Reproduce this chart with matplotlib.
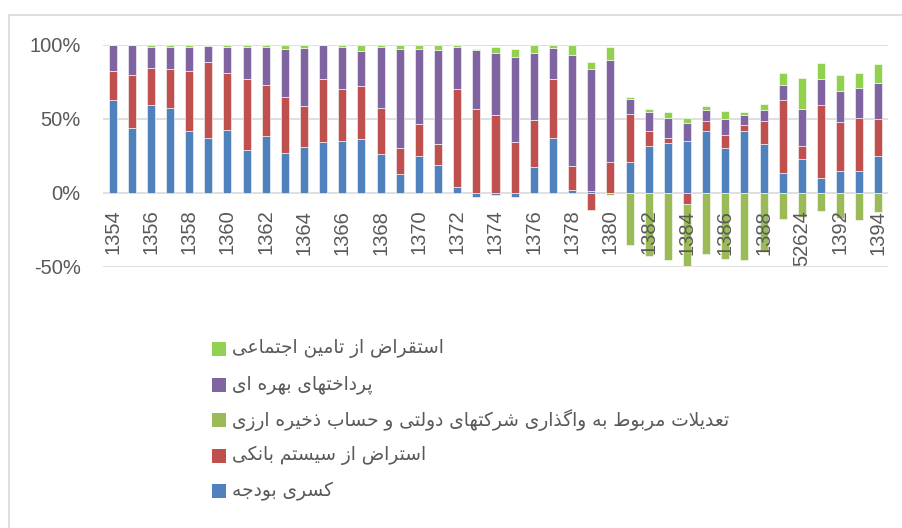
import numpy as np
import matplotlib
matplotlib.use("Agg")
import matplotlib.pyplot as plt
from matplotlib.patches import Rectangle

# ---------------- data (percent) ----------------
years = list(range(1354, 1395))
tick_years = [1354, 1356, 1358, 1360, 1362, 1364, 1366, 1368, 1370, 1372, 1374,
              1376, 1378, 1380, 1382, 1384, 1386, 1388, 1390, 1392, 1394]
tick_labels = ["1354", "1356", "1358", "1360", "1362", "1364", "1366", "1368", "1370",
               "1372", "1374", "1376", "1378", "1380", "1382", "1384", "1386", "1388",
               "52624", "1392", "1394"]

budget_deficit = [62.7, 43.9, 59.5, 57.2, 41.9, 37.3, 42.8, 29.2, 38.5, 26.7, 31.4,
                  34.2, 35.1, 36.4, 26.5, 12.9, 25.1, 18.6, 4.3, -2.9, -1.6, -2.5,
                  17.4, 37.3, 2.0, 1.6, 0.0, 20.8, 31.7, 33.5, 35.3, 41.6, 30.1,
                  42.1, 33.3, 13.6, 22.9, 10.2, 14.9, 14.7, 25.3]
bank_borrowing = [19.4, 36.0, 24.7, 26.3, 40.2, 51.4, 38.4, 47.9, 34.6, 38.2, 27.6,
                  42.5, 35.3, 35.8, 31.2, 17.2, 21.7, 14.7, 66.1, 57.0, 52.9, 34.6,
                  32.1, 39.4, 16.3, -11.5, 21.0, 32.6, 10.2, 3.8, -7.5, 6.8, 9.0,
                  3.8, 15.6, 49.5, 8.8, 49.3, 33.1, 36.0, 24.5]
adjustments = [0, 0, 0, 0, 0, 0, 0, 0, 0, 0, 0, 0, 0, 0, 0, 0, 0, 0, 0, 0, 0, 0,
               0, 0, 0, 0, -1.2, -34.8, -42.5, -45.5, -41.8, -41.0, -44.4, -45.5,
               -40.0, -17.9, -16.0, -12.0, -17.0, -18.3, -13.0]
interest = [17.9, 20.1, 14.2, 15.4, 16.8, 10.6, 17.7, 21.8, 25.8, 32.4, 39.2, 23.3,
            28.5, 24.0, 40.7, 67.4, 50.7, 63.5, 28.5, 39.6, 41.4, 57.5, 44.8, 21.0,
            74.9, 81.9, 68.8, 10.4, 13.1, 13.4, 12.0, 7.7, 10.7, 6.6, 7.0, 9.8,
            25.1, 17.4, 20.6, 20.3, 24.6]
social_security = [0, 0, 1.6, 1.1, 1.1, 0.7, 1.1, 1.1, 1.1, 2.7, 1.8, 0, 1.1, 3.8,
                   1.6, 2.5, 2.5, 3.2, 1.1, 0.5, 4.1, 5.0, 5.7, 2.3, 6.8, 4.7, 8.6,
                   0.9, 2.0, 4.1, 3.2, 2.7, 5.4, 2.0, 4.3, 8.5, 21.0, 10.9, 11.0,
                   10.2, 12.5]

series_names = [
    "کسری بودجه",
    "استراض از سیستم بانکی",
    "تعدیلات مربوط به واگذاری شرکتهای دولتی و حساب ذخیره ارزی",
    "پرداختهای بهره ای",
    "استقراض از تامین اجتماعی",
]
series_values = [budget_deficit, bank_borrowing, adjustments, interest, social_security]
series_colors = ["#4F81BD", "#C0504D", "#9BBB59", "#8064A2", "#92D050"]

# ---------------- minimal Arabic/Persian shaping ----------------
FORMS = {
    'ا': (0xFE8D, 0xFE8E, None, None), 'آ': (0xFE81, 0xFE82, None, None),
    'ب': (0xFE8F, 0xFE90, 0xFE91, 0xFE92), 'پ': (0xFB56, 0xFB57, 0xFB58, 0xFB59),
    'ت': (0xFE95, 0xFE96, 0xFE97, 0xFE98), 'ث': (0xFE99, 0xFE9A, 0xFE9B, 0xFE9C),
    'ج': (0xFE9D, 0xFE9E, 0xFE9F, 0xFEA0), 'چ': (0xFB7A, 0xFB7B, 0xFB7C, 0xFB7D),
    'ح': (0xFEA1, 0xFEA2, 0xFEA3, 0xFEA4), 'خ': (0xFEA5, 0xFEA6, 0xFEA7, 0xFEA8),
    'د': (0xFEA9, 0xFEAA, None, None), 'ذ': (0xFEAB, 0xFEAC, None, None),
    'ر': (0xFEAD, 0xFEAE, None, None), 'ز': (0xFEAF, 0xFEB0, None, None),
    'ژ': (0xFB8A, 0xFB8B, None, None),
    'س': (0xFEB1, 0xFEB2, 0xFEB3, 0xFEB4), 'ش': (0xFEB5, 0xFEB6, 0xFEB7, 0xFEB8),
    'ص': (0xFEB9, 0xFEBA, 0xFEBB, 0xFEBC), 'ض': (0xFEBD, 0xFEBE, 0xFEBF, 0xFEC0),
    'ط': (0xFEC1, 0xFEC2, 0xFEC3, 0xFEC4), 'ظ': (0xFEC5, 0xFEC6, 0xFEC7, 0xFEC8),
    'ع': (0xFEC9, 0xFECA, 0xFECB, 0xFECC), 'غ': (0xFECD, 0xFECE, 0xFECF, 0xFED0),
    'ف': (0xFED1, 0xFED2, 0xFED3, 0xFED4), 'ق': (0xFED5, 0xFED6, 0xFED7, 0xFED8),
    'ک': (0xFB8E, 0xFB8F, 0xFB90, 0xFB91), 'گ': (0xFB92, 0xFB93, 0xFB94, 0xFB95),
    'ل': (0xFEDD, 0xFEDE, 0xFEDF, 0xFEE0), 'م': (0xFEE1, 0xFEE2, 0xFEE3, 0xFEE4),
    'ن': (0xFEE5, 0xFEE6, 0xFEE7, 0xFEE8), 'ه': (0xFEE9, 0xFEEA, 0xFEEB, 0xFEEC),
    'و': (0xFEED, 0xFEEE, None, None), 'ی': (0xFBFC, 0xFBFD, 0xFBFE, 0xFBFF),
}


def dual(c):
    return c in FORMS and FORMS[c][2] is not None


def shape(text):
    out = []
    i = 0
    n = len(text)
    while i < n:
        c = text[i]
        if c not in FORMS:
            out.append(c)
            i += 1
            continue
        prev = text[i - 1] if i > 0 else ''
        join_prev = dual(prev)
        if c == 'ل' and i + 1 < n and text[i + 1] == 'ا':
            out.append(chr(0xFEFC if join_prev else 0xFEFB))
            i += 2
            continue
        nxt = text[i + 1] if i + 1 < n else ''
        join_next = dual(c) and nxt in FORMS
        iso, fin, ini, med = FORMS[c]
        if join_prev and join_next:
            code = med
        elif join_prev:
            code = fin
        elif join_next:
            code = ini
        else:
            code = iso
        out.append(chr(code))
        i += 1
    return ''.join(reversed(out))


# ---------------- figure ----------------
W, H = 903, 528
fig = plt.figure(figsize=(W / 100, H / 100), dpi=100)
fig.patch.set_facecolor("white")

ax_left, ax_right, ax_top, ax_bot = 103, 888, 45, 267
ax = fig.add_axes([ax_left / W, 1 - ax_bot / H, (ax_right - ax_left) / W, (ax_bot - ax_top) / H])

x = np.arange(len(years))
pos_bottom = np.zeros(len(years))
neg_bottom = np.zeros(len(years))
for name, vals, col in zip(series_names, series_values, series_colors):
    v = np.array(vals, dtype=float)
    bottom = np.where(v >= 0, pos_bottom, neg_bottom)
    ax.bar(x, v, bottom=bottom, width=0.42, color=col, edgecolor="white",
           linewidth=0.4, zorder=3)
    pos_bottom = pos_bottom + np.where(v > 0, v, 0)
    neg_bottom = neg_bottom + np.where(v < 0, v, 0)

ax.set_xlim(-0.5, len(years) - 0.5)
ax.set_ylim(-50, 100)
ax.set_yticks([-50, 0, 50, 100])
ax.set_yticklabels(["-50%", "0%", "50%", "100%"])
ax.grid(axis="y", color="#D9D9D9", linewidth=1.2, zorder=0)
for s in ax.spines.values():
    s.set_visible(False)
ax.spines["bottom"].set_position(("data", 0))

ax.set_xticks([years.index(t) for t in tick_years])
ax.set_xticklabels(tick_labels, rotation=90, va="top", ha="center")
ax.tick_params(axis="x", length=0, pad=12, labelsize=14.5, labelcolor="#595959")
ax.tick_params(axis="y", length=0, pad=16, labelsize=14.5, labelcolor="#595959")
ax.xaxis.set_zorder(4)
for lab in ax.get_xticklabels() + ax.get_yticklabels():
    lab.set_fontfamily(["Liberation Sans", "DejaVu Sans"])

# legend (reverse order, top entry = last series)
leg_x_sq = 212 / W
leg_x_txt = 232 / W
leg_y0 = 349
leg_dy = 35.6
for k, idx in enumerate(reversed(range(len(series_names)))):
    yc = leg_y0 + k * leg_dy
    fig.add_artist(Rectangle((leg_x_sq, 1 - (yc + 7) / H), 14 / W, 14 / H,
                             transform=fig.transFigure, facecolor=series_colors[idx],
                             edgecolor="none"))
    fig.text(leg_x_txt, 1 - yc / H, shape(series_names[idx]), ha="left", va="center",
             fontsize=13.4, color="#595959", family=["DejaVu Sans"])

# chart frame
fig.add_artist(Rectangle((9 / W, -0.1), 2.0, 1.1 - 15 / H, transform=fig.transFigure,
                         fill=False, edgecolor="#D9D9D9", linewidth=1.2))

fig.savefig("out.png", dpi=100, facecolor="white")
